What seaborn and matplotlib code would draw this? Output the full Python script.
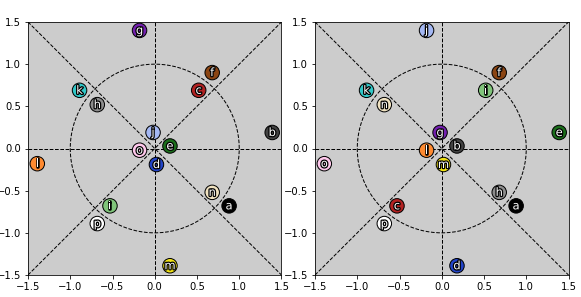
import numpy as np
import pandas as pd
import matplotlib
matplotlib.use("Agg")
import matplotlib.pyplot as plt
import matplotlib.patheffects as pe
import seaborn as sns

letters = list("abcdefghijklmnop")
colors = ["#000000", "#424242", "#b22222", "#2244c8", "#1b6e1b", "#8b4513",
          "#7420b0", "#8c8c8c", "#80c47a", "#a4b8f4", "#30c8c8", "#ff8a30",
          "#f2e414", "#f0e2c0", "#ffc8ec", "#ffffff"]

left_x = [0.88, 1.39, 0.52, 0.02, 0.18, 0.68, -0.18, -0.68,
          -0.53, -0.02, -0.89, -1.39, 0.18, 0.68, -0.18, -0.68]
left_y = [-0.68, 0.19, 0.69, -0.19, 0.03, 0.90, 1.40, 0.52,
          -0.68, 0.19, 0.69, -0.18, -1.39, -0.52, -0.02, -0.89]

right_x = [0.88, 0.18, -0.53, 0.18, 1.39, 0.68, -0.02, 0.68,
           0.52, -0.18, -0.89, -0.18, 0.02, -0.68, -1.39, -0.68]
right_y = [-0.68, 0.03, -0.68, -1.39, 0.19, 0.90, 0.19, -0.52,
           0.69, 1.40, 0.69, -0.02, -0.19, 0.52, -0.18, -0.89]

palette = dict(zip(letters, colors))
lim = 1.5

# drawn at 72 dpi so default sizes match the original rendering
fig = plt.figure(figsize=(581 / 72, 297 / 72), dpi=72)
ax1 = fig.add_axes([0.0482, 0.074, 0.4363, 0.852])
ax2 = fig.add_axes([0.5422, 0.074, 0.4363, 0.852])


def draw_panel(ax, xs, ys):
    df = pd.DataFrame({"x": xs, "y": ys, "label": letters})
    ax.set_facecolor("#cccccc")
    # guide lines
    ax.plot([-lim, lim], [-lim, lim], ls="--", color="k", lw=1, zorder=1)
    ax.plot([-lim, lim], [lim, -lim], ls="--", color="k", lw=1, zorder=1)
    ax.axhline(0, ls="--", color="k", lw=1, zorder=1)
    ax.axvline(0, ls="--", color="k", lw=1, zorder=1)
    t = np.linspace(0, 2 * np.pi, 200)
    ax.plot(np.cos(t), np.sin(t), ls="--", color="k", lw=1, zorder=1)

    sns.scatterplot(data=df, x="x", y="y", hue="label", palette=palette,
                    s=210, edgecolor="black", linewidth=1, legend=False,
                    ax=ax, zorder=3)
    for _, r in df.iterrows():
        ax.text(r["x"], r["y"], r["label"], ha="center", va="center",
                color="white", fontsize=11.5, zorder=4,
                path_effects=[pe.withStroke(linewidth=2.5, foreground="black")])

    ax.set_xlim(-lim, lim)
    ax.set_ylim(-lim, lim)
    ax.set_xticks(np.arange(-1.5, 1.6, 0.5))
    ax.set_yticks(np.arange(-1.5, 1.6, 0.5))
    ax.set_xlabel("")
    ax.set_ylabel("")


draw_panel(ax1, left_x, left_y)
draw_panel(ax2, right_x, right_y)

fig.savefig("out.png", dpi=72)
